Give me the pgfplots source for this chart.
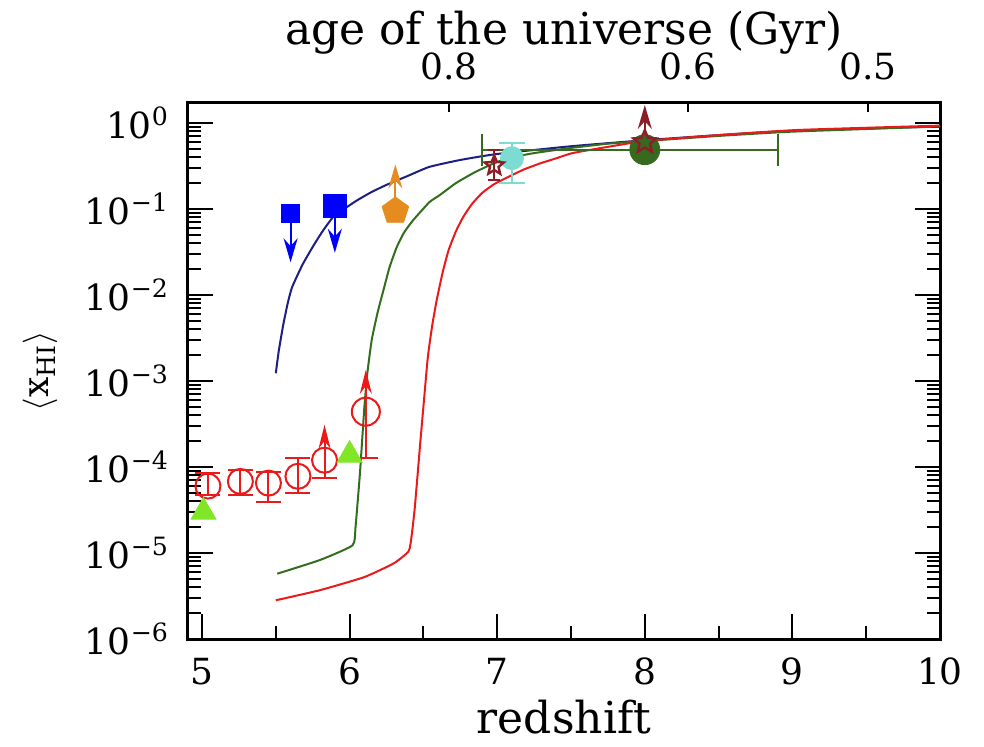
\documentclass[border=0pt]{standalone}
\usepackage{pgfplots}
\pgfplotsset{compat=1.18}
\usepackage{fontspec}
\setmainfont{DejaVu Serif}
\usetikzlibrary{arrows.meta}
\definecolor{cnavy}{RGB}{30,30,130}
\definecolor{cgreen}{RGB}{50,110,30}
\definecolor{cred}{RGB}{235,25,25}
\definecolor{cblue}{RGB}{0,0,255}
\definecolor{corange}{RGB}{230,140,30}
\definecolor{clgreen}{RGB}{130,230,40}
\definecolor{ccyan}{RGB}{125,220,210}
\definecolor{cdgreen}{RGB}{55,105,30}
\definecolor{cbrown}{RGB}{140,30,40}
\pgfdeclareplotmark{ostar}{%
  \pgfpathmoveto{\pgfpointpolar{90}{1\pgfplotmarksize}}%
  \pgfpathlineto{\pgfpointpolar{126}{0.45\pgfplotmarksize}}%
  \pgfpathlineto{\pgfpointpolar{162}{1\pgfplotmarksize}}%
  \pgfpathlineto{\pgfpointpolar{198}{0.45\pgfplotmarksize}}%
  \pgfpathlineto{\pgfpointpolar{234}{1\pgfplotmarksize}}%
  \pgfpathlineto{\pgfpointpolar{270}{0.45\pgfplotmarksize}}%
  \pgfpathlineto{\pgfpointpolar{306}{1\pgfplotmarksize}}%
  \pgfpathlineto{\pgfpointpolar{342}{0.45\pgfplotmarksize}}%
  \pgfpathlineto{\pgfpointpolar{18}{1\pgfplotmarksize}}%
  \pgfpathlineto{\pgfpointpolar{54}{0.45\pgfplotmarksize}}%
  \pgfpathclose\pgfusepathqstroke}
\begin{document}
\begin{tikzpicture}[x=1pt,y=1pt]
\useasboundingbox (-94,-54) rectangle (398,319.5);
\begin{axis}[at={(0,0)}, anchor=south west, scale only axis,
  width=376pt, height=268pt,
  xmin=4.905, xmax=10, ymode=log, ymin=1e-6, ymax=1.71,
  xtick={5,6,7,8,9,10}, xticklabels={5,6,7,8,9,10},
  minor xtick={5.5,6.5,7.5,8.5,9.5},
  xtick pos=left, ytick pos=both,
  ytick={1e-6,1e-5,1e-4,1e-3,1e-2,1e-1,1},
  yticklabels={10\textsuperscript{−6},10\textsuperscript{−5},10\textsuperscript{−4},10\textsuperscript{−3},10\textsuperscript{−2},10\textsuperscript{−1},10\textsuperscript{0}},
  major tick length=12.5pt, minor tick length=6.5pt,
  every tick/.style={black, line width=1pt},
  axis line style={line width=1.5pt},
  tick label style={font=\fontsize{18}{21}\selectfont},
  yticklabel style={xshift=-6pt},
  xticklabel style={yshift=-6pt},
  xlabel={redshift},
  ylabel={$\langle$x\textsubscript{HI}$\rangle$},
  every axis y label/.style={at={(axis description cs:0,0.5)}, xshift=-74pt, rotate=90, anchor=center, font=\fontsize{18}{22}\selectfont},
  every axis x label/.style={at={(axis description cs:0.5,0)}, yshift=-39pt, anchor=center, font=\fontsize{22}{26}\selectfont},
  error bars/error bar style={line width=1pt},
]
% model curves
\addplot[cnavy, line width=1pt, smooth, tension=0.3] coordinates {
 (5.50,1.23e-3) (5.52,2.24e-3) (5.55,4.47e-3) (5.58,7.94e-3) (5.61,1.23e-2)
 (5.68,2.24e-2) (5.75,3.63e-2) (5.82,5.62e-2) (5.89,8.13e-2) (5.97,0.102)
 (6.05,0.126) (6.15,0.158) (6.25,0.191) (6.40,0.245) (6.54,0.309)
 (6.75,0.372) (7.0,0.437) (7.5,0.537) (8.0,0.631) (8.5,0.724) (9.0,0.813) (10.0,0.912)};
\addplot[cgreen, line width=1pt, smooth, tension=0.3] coordinates {
 (5.51,5.75e-6) (5.8,8.3e-6) (6.02,1.23e-5) (6.04,2.0e-5) (6.07,8.5e-5)
 (6.10,5.0e-4) (6.12,1.23e-3) (6.15,3.02e-3) (6.19,6.3e-3) (6.23,1.15e-2)
 (6.27,2.09e-2) (6.32,3.63e-2) (6.37,5.37e-2) (6.43,7.4e-2) (6.54,0.120)
 (6.61,0.145) (6.72,0.200) (6.84,0.263) (6.95,0.324) (7.07,0.389)
 (7.25,0.447) (7.5,0.513) (7.75,0.575) (8.0,0.617) (8.5,0.708) (9.0,0.794) (10.0,0.912)};
\addplot[cred, line width=1pt, smooth, tension=0.3] coordinates {
 (5.5,2.82e-6) (5.8,3.7e-6) (6.1,5.25e-6) (6.3,7.6e-6) (6.40,1.05e-5)
 (6.42,1.58e-5) (6.44,3.16e-5) (6.46,7.9e-5) (6.48,2.04e-4) (6.505,6.3e-4)
 (6.53,1.9e-3) (6.56,4.47e-3) (6.59,8.7e-3) (6.63,1.82e-2) (6.67,3.3e-2)
 (6.72,5.5e-2) (6.77,8.1e-2) (6.83,0.115) (6.90,0.155) (6.98,0.195)
 (7.07,0.234) (7.18,0.288) (7.29,0.339) (7.40,0.389) (7.51,0.447)
 (7.74,0.525) (8.0,0.617) (8.5,0.724) (9.05,0.832) (10,0.933)};
% limit arrows
\addplot[cblue, line width=1pt, -{Stealth[length=12pt,width=7pt]}] coordinates {(5.60,0.089) (5.60,0.024)};
\addplot[cblue, line width=1pt, -{Stealth[length=12pt,width=7pt]}] coordinates {(5.90,0.108) (5.90,0.031)};
\addplot[corange, line width=1pt, -{Stealth[length=12pt,width=7pt]}] coordinates {(6.31,0.095) (6.31,0.33)};
\addplot[cred, line width=1pt, -{Stealth[length=12pt,width=6pt]}] coordinates {(5.83,1.2e-4) (5.83,3.1e-4)};
\addplot[cred, line width=1pt, -{Stealth[length=12pt,width=6pt]}] coordinates {(6.11,4.4e-4) (6.11,1.35e-3)};
\addplot[cbrown, line width=1pt, -{Stealth[length=12pt,width=7pt]}] coordinates {(8.0,0.60) (8.0,1.62)};
% red circles with error bars
\addplot[cred, only marks, mark=o, mark size=6.25pt, mark options={line width=1pt},
  error bars/.cd, y dir=both, y explicit, error mark options={rotate=90, mark size=6.25pt, line width=1pt}]
  table[x=x, y=y, y error plus=ep, y error minus=em] {
 x y ep em
 5.04 6.0e-5 2.5e-5 1.3e-5
 5.26 6.8e-5 2.5e-5 2.1e-5
 5.45 6.5e-5 2.2e-5 2.6e-5
 5.65 7.8e-5 4.8e-5 2.8e-5
};
\addplot[cred, only marks, mark=o, mark size=6.25pt, mark options={line width=1pt},
  error bars/.cd, y dir=minus, y explicit, error mark options={rotate=90, mark size=6.25pt, line width=1pt}]
  table[x=x, y=y, y error minus=em] {
 x y em
 5.83 1.2e-4 4.6e-5
};
\addplot[cred, only marks, mark=o, mark size=7pt, mark options={line width=1pt},
  error bars/.cd, y dir=minus, y explicit, error mark options={rotate=90, mark size=6.25pt, line width=1pt}]
  table[x=x, y=y, y error minus=em] {
 x y em
 6.11 4.4e-4 3.14e-4
};
% light green triangles
\addplot[clgreen, only marks, mark=triangle*, mark size=7.2pt] coordinates {(5.01,3.0e-5) (6.0,1.38e-4)};
% blue squares
\addplot[cblue, only marks, mark=square*, mark size=4.5pt] coordinates {(5.60,0.089)};
\addplot[cblue, only marks, mark=square*, mark size=5.75pt] coordinates {(5.90,0.108)};
% orange pentagon
\addplot[corange, only marks, mark=pentagon*, mark size=7pt] coordinates {(6.31,0.095)};
% dark green circle with x error
\addplot[cdgreen, only marks, mark=*, mark size=7.5pt,
  error bars/.cd, x dir=both, x explicit, error mark options={rotate=90, mark size=8pt, line width=1pt}]
  table[x=x, y=y, x error plus=ep, x error minus=em] {
 x y ep em
 8.0 0.49 0.9 1.1
};
% cyan circle
\addplot[ccyan, only marks, mark=*, mark size=5.75pt,
  error bars/.cd, y dir=both, y explicit, error mark options={rotate=90, mark size=6.5pt, line width=1pt}]
  table[x=x, y=y, y error plus=ep, y error minus=em] {
 x y ep em
 7.10 0.39 0.20 0.19
};
% brown stars
\addplot[cbrown, only marks, mark=ostar, mark size=6pt, mark options={line width=1.2pt}] coordinates {(8.0,0.60)};
\addplot[cbrown, only marks, mark=ostar, mark size=5pt, mark options={line width=1.2pt},
  error bars/.cd, y dir=both, y explicit, error mark options={rotate=90, mark size=3pt, line width=1pt}]
  table[x=x, y=y, y error plus=ep, y error minus=em] {
 x y ep em
 6.98 0.32 0.17 0.10
};
\end{axis}
\begin{axis}[at={(0,0)}, anchor=south west, scale only axis,
  width=376pt, height=268pt,
  xmin=4.905, xmax=10, ymode=log, ymin=1e-6, ymax=1.71,
  axis x line*=top, axis y line=none,
  xtick={6.673,8.293,9.512}, xticklabels={0.8,0.6,0.5},
  minor xtick={}, ytick=\empty,
  major tick length=4.5pt,
  every tick/.style={black, line width=1pt},
  axis line style={line width=1.5pt},
  tick label style={font=\fontsize{18}{21}\selectfont},
  xticklabel style={yshift=8pt},
  xlabel={age of the universe (Gyr)},
  every axis x label/.style={at={(axis description cs:0.5,1)}, yshift=35pt, anchor=center, font=\fontsize{22}{26}\selectfont},
]
\addplot[draw=none] coordinates {(6,1e-3)};
\end{axis}
\end{tikzpicture}
\end{document}
